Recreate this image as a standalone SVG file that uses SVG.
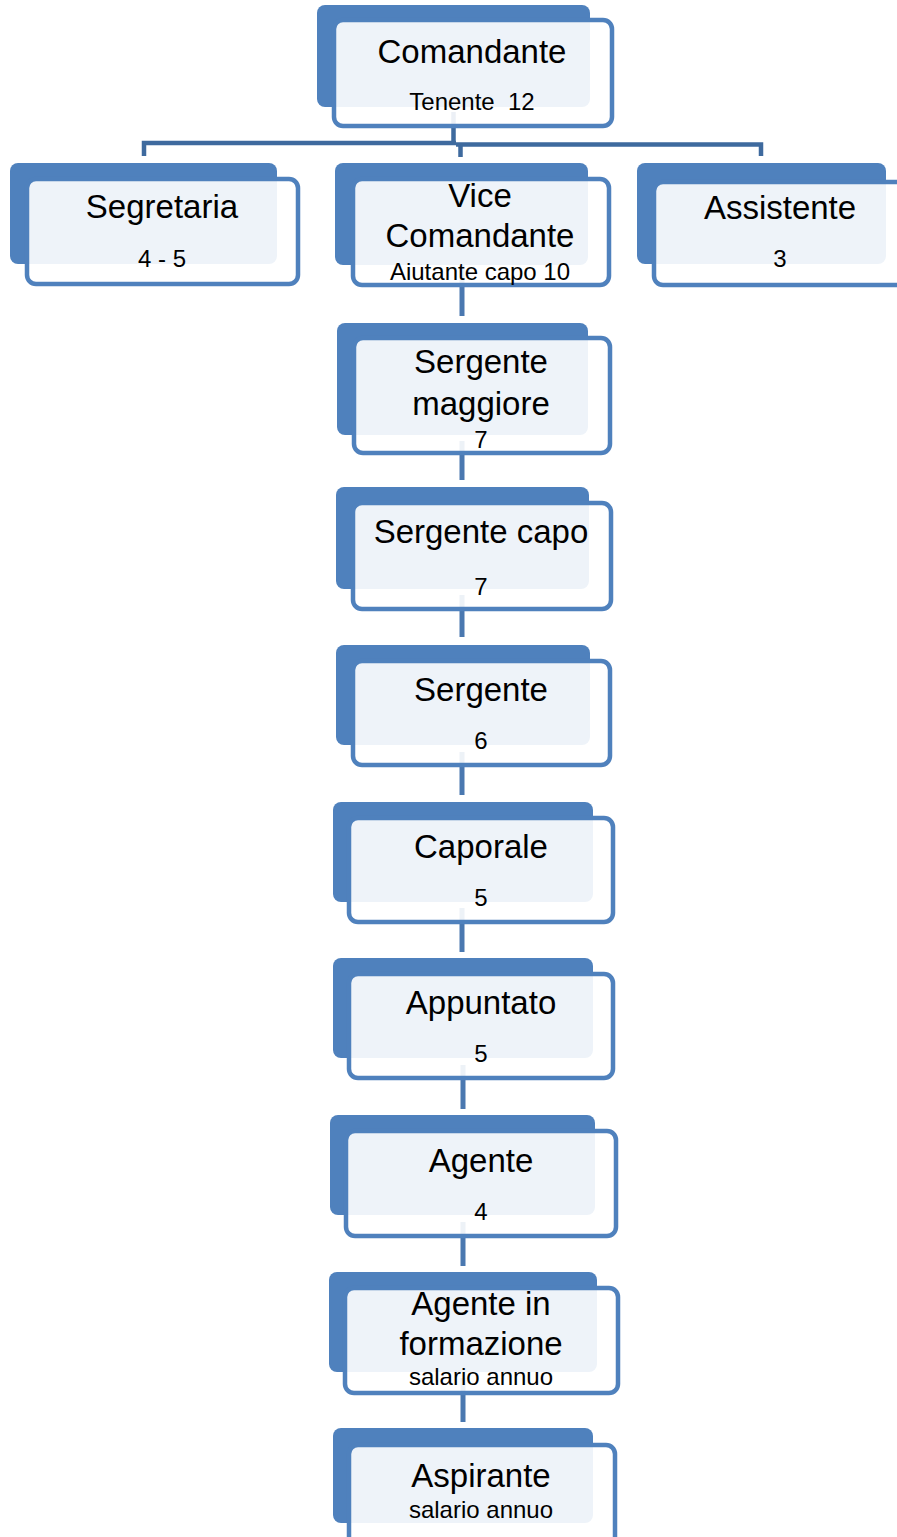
<svg xmlns="http://www.w3.org/2000/svg" width="897" height="1537" viewBox="0 0 897 1537">
<style>
.back{fill:#4F81BD;}
.front{fill:#FFFFFF;fill-opacity:0.9;stroke:#4F81BD;stroke-width:4.5;}
.t{font-family:"Liberation Sans",Arial,sans-serif;font-size:33px;fill:#000;text-anchor:middle;}
.s{font-family:"Liberation Sans",Arial,sans-serif;font-size:24px;fill:#000;text-anchor:middle;white-space:pre;}
.c1{stroke:#3E6A9E;stroke-width:4.5;fill:none;}
.c2{stroke:#4A78B0;stroke-width:5;fill:none;}
</style>
<rect width="897" height="1537" fill="#FFFFFF"/>
<g id="connectors">
<path class="c1" d="M453.5,112 V143 M144,156 V143 H456 M456,144.5 H761 V156 M460.5,144.5 V157"/>
<path class="c2" d="M462,265 V316 M462,441 V480 M462,595 V637 M462,752 V795 M462,908 V952 M463,1065 V1109 M463,1222 V1266 M463,1378 V1422"/>
</g>
<g id="comandante">
<rect class="back" x="317" y="5" width="273" height="102" rx="8"/>
<rect class="front" x="334" y="20" width="278" height="106" rx="9"/>
<text class="t" x="472" y="63">Comandante</text>
<text class="s" x="472" y="110">Tenente  12</text>
</g>
<g id="segretaria">
<rect class="back" x="10" y="163" width="267" height="101" rx="8"/>
<rect class="front" x="27" y="179" width="271" height="105" rx="9"/>
<text class="t" x="162" y="218">Segretaria</text>
<text class="s" x="162" y="267">4 - 5</text>
</g>
<g id="vice-comandante">
<rect class="back" x="335" y="163" width="253" height="102" rx="8"/>
<rect class="front" x="353" y="179" width="256" height="106" rx="9"/>
<text class="t" x="480" y="207">Vice</text>
<text class="t" x="480" y="247">Comandante</text>
<text class="s" x="480" y="280">Aiutante capo 10</text>
</g>
<g id="assistente">
<rect class="back" x="637" y="163" width="249" height="101" rx="8"/>
<rect class="front" x="654" y="182" width="256" height="103" rx="9"/>
<text class="t" x="780" y="219">Assistente</text>
<text class="s" x="780" y="267">3</text>
</g>
<g id="sergente-maggiore">
<rect class="back" x="337" y="323" width="251" height="112" rx="8"/>
<rect class="front" x="354" y="338" width="256" height="115" rx="9"/>
<text class="t" x="481" y="373">Sergente</text>
<text class="t" x="481" y="415">maggiore</text>
<text class="s" x="481" y="448">7</text>
</g>
<g id="sergente-capo">
<rect class="back" x="336" y="487" width="253" height="102" rx="8"/>
<rect class="front" x="353" y="503" width="258" height="106" rx="9"/>
<text class="t" x="481" y="543">Sergente capo</text>
<text class="s" x="481" y="595">7</text>
</g>
<g id="sergente">
<rect class="back" x="336" y="645" width="254" height="100" rx="8"/>
<rect class="front" x="353" y="661" width="257" height="104" rx="9"/>
<text class="t" x="481" y="701">Sergente</text>
<text class="s" x="481" y="749">6</text>
</g>
<g id="caporale">
<rect class="back" x="333" y="802" width="260" height="100" rx="8"/>
<rect class="front" x="349" y="818" width="264" height="104" rx="9"/>
<text class="t" x="481" y="858">Caporale</text>
<text class="s" x="481" y="906">5</text>
</g>
<g id="appuntato">
<rect class="back" x="333" y="958" width="260" height="100" rx="8"/>
<rect class="front" x="349" y="974" width="264" height="104" rx="9"/>
<text class="t" x="481" y="1014">Appuntato</text>
<text class="s" x="481" y="1062">5</text>
</g>
<g id="agente">
<rect class="back" x="330" y="1115" width="265" height="100" rx="8"/>
<rect class="front" x="346" y="1131" width="270" height="105" rx="9"/>
<text class="t" x="481" y="1172">Agente</text>
<text class="s" x="481" y="1220">4</text>
</g>
<g id="agente-in-formazione">
<rect class="back" x="329" y="1272" width="268" height="100" rx="8"/>
<rect class="front" x="345" y="1288" width="273" height="105" rx="9"/>
<text class="t" x="481" y="1315">Agente in</text>
<text class="t" x="481" y="1355">formazione</text>
<text class="s" x="481" y="1385">salario annuo</text>
</g>
<g id="aspirante">
<rect class="back" x="333" y="1428" width="260" height="95" rx="8"/>
<rect class="front" x="349" y="1445" width="266" height="115" rx="9"/>
<text class="t" x="481" y="1487">Aspirante</text>
<text class="s" x="481" y="1518">salario annuo</text>
</g>
</svg>
